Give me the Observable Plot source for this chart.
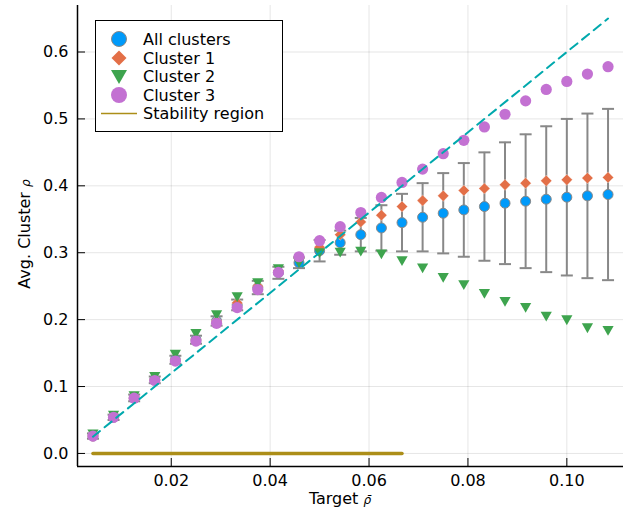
<!DOCTYPE html>
<html><head><meta charset="utf-8">
<script src="https://cdn.jsdelivr.net/npm/d3@7"></script>
<script src="https://cdn.jsdelivr.net/npm/@observablehq/plot@0.6"></script>
<style>
body{margin:0;background:#fff;}
#chart{width:631px;height:510px;}
</style></head><body><div id="chart"></div>
<script>
// ---- data ----
const targets = [0.004167,0.008333,0.0125,0.016667,0.020833,0.025,0.029167,0.033333,0.0375,0.041667,0.045833,0.05,0.054167,0.058333,0.0625,0.066667,0.070833,0.075,0.079167,0.083333,0.0875,0.091667,0.095833,0.1,0.104167,0.108333];
const allMean = [0.026,0.054,0.083,0.110,0.140,0.170,0.198,0.222,0.248,0.270,0.285,0.303,0.315,0.327,0.337,0.345,0.353,0.359,0.364,0.369,0.374,0.377,0.380,0.383,0.385,0.387];
const allErr  = [0.004,0.004,0.005,0.005,0.006,0.006,0.007,0.008,0.010,0.009,0.008,0.016,0.018,0.025,0.034,0.043,0.051,0.060,0.070,0.081,0.091,0.100,0.109,0.117,0.123,0.128];
const cluster1 = [0.026,0.054,0.083,0.110,0.140,0.170,0.198,0.225,0.250,0.273,0.292,0.308,0.327,0.346,0.356,0.369,0.378,0.385,0.393,0.396,0.4015,0.404,0.4075,0.409,0.4115,0.4125];
const cluster2 = [0.029,0.057,0.086,0.115,0.148,0.179,0.207,0.234,0.255,0.276,0.285,0.300,0.3005,0.302,0.298,0.288,0.277,0.263,0.252,0.239,0.227,0.218,0.205,0.1995,0.1876,0.1836];
const cluster3 = [0.026,0.054,0.0826,0.109,0.138,0.168,0.1945,0.218,0.245,0.2706,0.294,0.318,0.339,0.360,0.3826,0.405,0.425,0.448,0.468,0.488,0.507,0.527,0.544,0.556,0.567,0.578];
const stabilityX = [0.004167, 0.066667];
const stabilityY = [0, 0];
const refX = [0.004167, 0.108333];
const refY = [0.025, 0.65];
const xTicks = [0.02, 0.04, 0.06, 0.08, 0.10];
const yTicks = [0.0, 0.1, 0.2, 0.3, 0.4, 0.5, 0.6];
const legendLabels = ["All clusters", "Cluster 1", "Cluster 2", "Cluster 3", "Stability region"];

// ---- styles ----
const C = {all:"#009AFA", c1:"#E36F47", c2:"#3EA44E", c3:"#C371D2", stab:"#AC8E18", ref:"#00A9AD", err:"#888888"};
const W = 631, H = 510, mL = 77, mR = 8, mT = 5, mB = 44;
const plotW = W - mL - mR, plotH = H - mT - mB;
const xDomain = [0.00104, 0.11146];
const yDomain = [-0.0195, 0.6695];

const rows = targets.map((x, i) => ({x, all: allMean[i], lo: allMean[i] - allErr[i], hi: allMean[i] + allErr[i], c1: cluster1[i], c2: cluster2[i], c3: cluster3[i]}));
const stab = stabilityX.map((x, i) => ({x, y: stabilityY[i]}));
const ref = refX.map((x, i) => ({x, y: refY[i]}));

const capSymbol = {draw(ctx){ ctx.moveTo(-6, 0); ctx.lineTo(6, 0); }};
const diamond = {draw(ctx){ const h = 5.6; ctx.moveTo(0, -h); ctx.lineTo(h, 0); ctx.lineTo(0, h); ctx.lineTo(-h, 0); ctx.closePath(); }};
const downTri = {draw(ctx){ ctx.moveTo(-5.6, -4.6); ctx.lineTo(5.6, -4.6); ctx.lineTo(0, 5.2); ctx.closePath(); }};

const svg = Plot.plot({
  width: W, height: H,
  marginLeft: mL, marginRight: mR, marginTop: mT, marginBottom: mB,
  style: {fontFamily: "DejaVu Sans", fontSize: "16px", background: "white", color: "black"},
  x: {domain: xDomain},
  y: {domain: yDomain},
  marks: [
    Plot.gridX(xTicks, {stroke: "#000", strokeOpacity: 0.1, strokeWidth: 1}),
    Plot.gridY(yTicks, {stroke: "#000", strokeOpacity: 0.1, strokeWidth: 1}),
    Plot.axisX(xTicks, {tickSize: 0, tickPadding: 8, tickFormat: d3.format(".2f"), fontSize: 16, label: null}),
    Plot.axisY(yTicks, {tickSize: 0, tickPadding: 9, tickFormat: d3.format(".1f"), fontSize: 16, label: null}),
    Plot.tickX(xTicks, {x: d => d, insetTop: plotH - 8, stroke: "#000", strokeWidth: 1}),
    Plot.tickY(yTicks, {y: d => d, insetRight: plotW - 8, stroke: "#000", strokeWidth: 1}),
    Plot.ruleX([xDomain[0]], {stroke: "#000", strokeWidth: 1.5}),
    Plot.ruleY([yDomain[0]], {stroke: "#000", strokeWidth: 1.5}),
    // error bars
    Plot.ruleX(rows, {x: "x", y1: "lo", y2: "hi", stroke: C.err, strokeWidth: 2}),
    Plot.dot(rows, {x: "x", y: "lo", symbol: capSymbol, r: 6, stroke: C.err, strokeWidth: 2, fill: "none"}),
    Plot.dot(rows, {x: "x", y: "hi", symbol: capSymbol, r: 6, stroke: C.err, strokeWidth: 2, fill: "none"}),
    Plot.dot(rows, {x: "x", y: "all", r: 5, fill: C.all, stroke: C.err, strokeWidth: 1}),
    Plot.dot(rows, {x: "x", y: "c1", symbol: diamond, r: 5, fill: C.c1, stroke: "#fff", strokeOpacity: 0.6, strokeWidth: 0.6}),
    Plot.dot(rows, {x: "x", y: "c2", symbol: downTri, r: 5, fill: C.c2, stroke: "none"}),
    Plot.dot(rows, {x: "x", y: "c3", r: 5.6, fill: C.c3, stroke: "none"}),
    Plot.line(stab, {x: "x", y: "y", stroke: C.stab, strokeWidth: 3.5}),
    Plot.line(ref, {x: "x", y: "y", stroke: C.ref, strokeWidth: 2, strokeDasharray: "9,6"})
  ]
});
document.getElementById("chart").appendChild(svg);

// axis labels and legend
const s = d3.select(svg);
const xl = s.append("text").attr("x", 340).attr("y", 504).attr("text-anchor", "middle")
  .attr("font-family", "DejaVu Sans").attr("font-size", 16).attr("fill", "#000");
xl.append("tspan").text("Target ");
xl.append("tspan").attr("font-style", "italic").attr("font-size", 12).text("ρ\u0304");
const yl = s.append("text").attr("transform", "translate(30,234) rotate(-90)").attr("text-anchor", "middle")
  .attr("font-family", "DejaVu Sans").attr("font-size", 16).attr("fill", "#000");
yl.append("tspan").text("Avg. Cluster ");
yl.append("tspan").attr("font-style", "italic").attr("font-size", 12).text("ρ");

const lg = s.append("g").attr("font-family", "DejaVu Sans").attr("font-size", 16).attr("text-anchor", "start");
lg.append("rect").attr("x", 95.5).attr("y", 20.5).attr("width", 187).attr("height", 111).attr("fill", "#fff").attr("stroke", "#000").attr("stroke-width", 1);
const rowY = [39, 58, 76.5, 95, 113.5];
const mx = 119;
lg.append("circle").attr("cx", mx).attr("cy", rowY[0]).attr("r", 7.5).attr("fill", C.all).attr("stroke", C.err).attr("stroke-width", 1);
lg.append("path").attr("d", `M${mx},${rowY[1]-7.5}L${mx+7.5},${rowY[1]}L${mx},${rowY[1]+7.5}L${mx-7.5},${rowY[1]}Z`).attr("fill", C.c1);
lg.append("path").attr("d", `M${mx-8},${rowY[2]-6.5}L${mx+8},${rowY[2]-6.5}L${mx},${rowY[2]+7.5}Z`).attr("fill", C.c2);
lg.append("circle").attr("cx", mx).attr("cy", rowY[3]).attr("r", 8).attr("fill", C.c3);
lg.append("line").attr("x1", 101).attr("x2", 137).attr("y1", rowY[4]).attr("y2", rowY[4]).attr("stroke", C.stab).attr("stroke-width", 1.5);
legendLabels.forEach((t, i) => {
  lg.append("text").attr("x", 143).attr("y", rowY[i]).attr("dy", "0.36em").attr("text-anchor", "start").attr("fill", "#000").text(t);
});
</script>
</body></html>
